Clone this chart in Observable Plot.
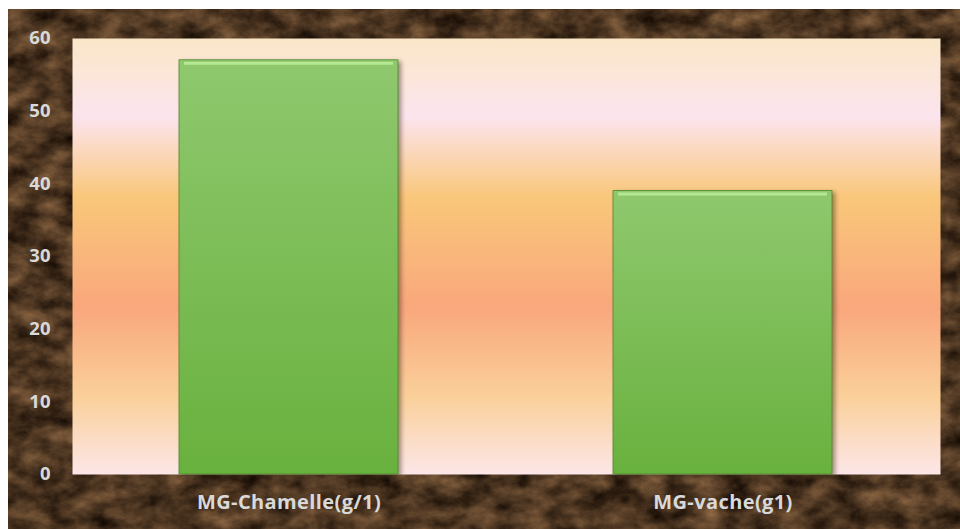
<!DOCTYPE html>
<html><head><meta charset="utf-8">
<script src="https://cdn.jsdelivr.net/npm/d3@7"></script>
<script src="https://cdn.jsdelivr.net/npm/@observablehq/plot@0.6"></script>
<style>
body{margin:0;background:#fff;}
#chart{position:absolute;left:8px;top:9px;width:952px;height:520px;}
#chart svg g[aria-label="bar"]{filter:drop-shadow(3px 2px 2px rgba(60,40,20,0.45));}
#chart svg g[aria-label="x-axis tick label"]{font-size:20px;letter-spacing:0.4px;}
</style></head><body><div id="chart"></div>
<script>
const categories = ["MG-Chamelle(g/1)", "MG-vache(g1)"];
const values = [57, 39];
const yTicks = [0, 10, 20, 30, 40, 50, 60];
const data = categories.map((c, i) => ({category: c, value: values[i]}));

const plot = Plot.plot({
  width: 952, height: 520,
  marginLeft: 64, marginRight: 20, marginTop: 29, marginBottom: 55,
  style: {background: "transparent", fontFamily: "'Open Sans', Lato, sans-serif", fontWeight: "bold", fontSize: "18.5px", color: "#d9d9d9", overflow: "visible"},
  x: {domain: categories, paddingInner: 0.495, paddingOuter: 0.2475, label: null},
  y: {domain: [0, 60], label: null},
  marks: [
    Plot.frame({fill: "url(#plotBg)", stroke: null}),
    Plot.barY(data, {x: "category", y: "value", fill: "url(#barGrad)", stroke: "#4d8a2a", strokeWidth: 0.8}),
    Plot.tickY(data, {x: "category", y: "value", stroke: "#b6e792", strokeWidth: 3, dy: 3, insetLeft: 5, insetRight: 5}),
    Plot.axisY({ticks: yTicks, tickSize: 0, tickPadding: 22, fill: "#d9d9d9", label: null}),
    Plot.axisX({tickSize: 0, tickPadding: 20, fill: "#d9d9d9", label: null})
  ]
});

const svg = d3.select(plot);
const defs = svg.insert("defs", ":first-child");
const bg = defs.append("linearGradient").attr("id", "plotBg").attr("x1", 0).attr("y1", 0).attr("x2", 0).attr("y2", 1);
[[0, "#fae7c8"], [0.18, "#fce4ee"], [0.365, "#f9c77a"], [0.617, "#f9a77c"], [0.823, "#fad09a"], [1, "#fce6e8"]]
  .forEach(([o, c]) => bg.append("stop").attr("offset", o).attr("stop-color", c));
const bar = defs.append("linearGradient").attr("id", "barGrad").attr("x1", 0).attr("y1", 0).attr("x2", 0).attr("y2", 1);
[[0, "#8fc86e"], [1, "#69b13e"]].forEach(([o, c]) => bar.append("stop").attr("offset", o).attr("stop-color", c));
const f = defs.append("filter").attr("id", "marble").attr("x", 0).attr("y", 0).attr("width", 1).attr("height", 1)
  .attr("color-interpolation-filters", "sRGB");
f.append("feTurbulence").attr("type", "fractalNoise").attr("baseFrequency", "0.035 0.05").attr("numOctaves", 6).attr("seed", 11).attr("result", "n");
f.append("feColorMatrix").attr("in", "n").attr("type", "matrix")
  .attr("values", "0.6 0 0 0 0.0  0.46 0 0 0 -0.02  0.32 0 0 0 -0.03  0 0 0 0 1");
svg.insert("rect", "defs + *").attr("x", 0).attr("y", 0).attr("width", 952).attr("height", 520).attr("fill", "#4a3020").attr("filter", "url(#marble)");
document.getElementById("chart").appendChild(plot);
</script></body></html>
